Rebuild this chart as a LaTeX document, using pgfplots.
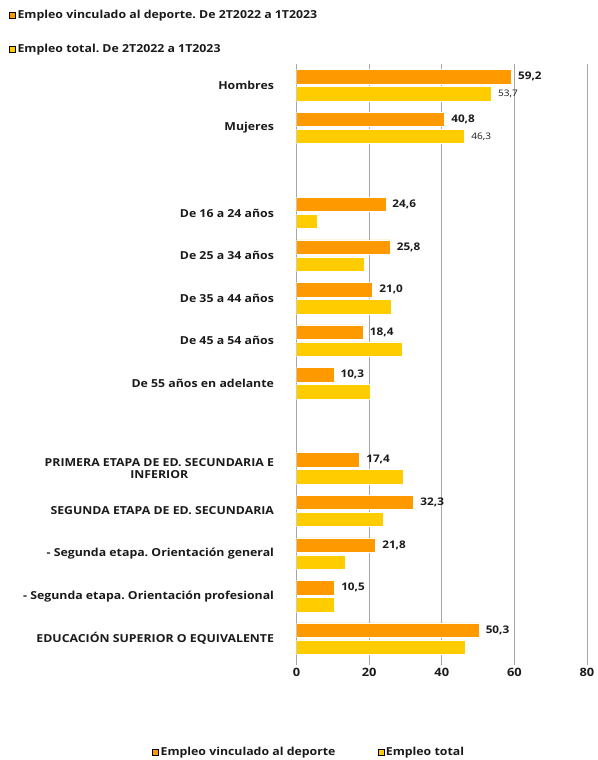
\documentclass[border=0pt]{standalone}
\usepackage{fontspec}
\setmainfont{Open Sans}[FakeStretch=1.12]
\usepackage{pgfplots}
\pgfplotsset{compat=1.18}
\frenchspacing
\definecolor{orangeS}{HTML}{FF9900}
\definecolor{yellowT}{HTML}{FFCC00}
\definecolor{gridG}{HTML}{A6A6A6}
\definecolor{txt}{HTML}{1A1A1A}
\pgfplotsset{
  sq/.style={legend image code/.code={\fill[##1] (0pt,-3pt) rectangle (6pt,3pt);}},
}
\begin{document}
\begin{tikzpicture}
\path[use as bounding box] (0pt,0pt) rectangle (597pt,760pt);
\begin{axis}[
  at={(296.5pt,100pt)}, anchor=south west,
  scale only axis, width=290.5pt, height=596pt,
  xmin=0, xmax=80, ymin=-0.5, ymax=13.5,
  xtick={0,20,40,60,80},
  ytick={0,1,2,3,4,6,7,8,9,10,12,13},
  yticklabels={EDUCACIÓN SUPERIOR O EQUIVALENTE, - Segunda etapa. Orientación profesional, - Segunda etapa. Orientación general, SEGUNDA ETAPA DE ED. SECUNDARIA, {PRIMERA ETAPA DE ED. SECUNDARIA E\\INFERIOR}, De 55 años en adelante, De 45 a 54 años, De 35 a 44 años, De 25 a 34 años, De 16 a 24 años, Mujeres, Hombres},
  yticklabel style={align=center, font=\bfseries\fontsize{11}{12.5}\selectfont, text=txt, xshift=-14pt},
  xticklabel style={font=\bfseries\fontsize{11.5}{13}\selectfont, text=txt},
  /pgf/number format/assume math mode=true,
  axis line style={draw=none},
  xmajorgrids, grid style={gridG, line width=0.8pt},
  major tick length=5pt, tick align=outside,
  xtick style={draw=gridG, line width=0.8pt}, ytick style={draw=none},
  xtick pos=bottom, ytick pos=left,
  xbar, bar width=14.5pt,
  nodes near coords={\pgfmathprintnumber[use comma,fixed,fixed zerofill,precision=1]{\pgfplotspointmeta}},
  nodes near coords align={horizontal},
]
\addplot[forget plot, fill=orangeS, draw=white, line width=0.6pt, bar shift=8.5pt,
  every node near coord/.append style={font=\bfseries\fontsize{10.5}{12}\selectfont, text=txt, xshift=3pt}]
  coordinates {(59.2,13) (40.8,12) (24.6,10) (25.8,9) (21.0,8) (18.4,7) (10.3,6) (17.4,4) (32.3,3) (21.8,2) (10.5,1) (50.3,0)};
\addplot[forget plot, fill=yellowT, draw=white, line width=0.6pt, bar shift=-8.5pt,
  every node near coord/.append style={font=\fontsize{9}{10}\selectfont, text=txt, xshift=3pt}]
  coordinates {(53.7,13) (46.3,12)};
\addplot[forget plot, fill=yellowT, draw=white, line width=0.6pt, bar shift=-8.5pt, nodes near coords={}]
  coordinates {(5.6,10) (18.8,9) (26.0,8) (29.0,7) (20.3,6) (29.5,4) (24.0,3) (13.4,2) (10.3,1) (46.4,0)};
\end{axis}
% legends
\begin{axis}[
  at={(0pt,0pt)}, anchor=south west, scale only axis, width=597pt, height=760pt,
  xmin=0, xmax=597, ymin=0, ymax=760, hide axis,
  legend style={at={(axis cs:9,752)}, anchor=north west, draw=none, fill=none,
    font=\bfseries\fontsize{11}{12}\selectfont, text=txt, row sep=20pt, inner sep=0pt},
  legend cell align=left,
]
\addlegendimage{sq, fill=orangeS}
\addlegendentry{Empleo vinculado al deporte. De 2T2022 a 1T2023}
\addlegendimage{sq, fill=yellowT}
\addlegendentry{Empleo total. De 2T2022 a 1T2023}
\end{axis}
\begin{axis}[
  at={(0pt,0pt)}, anchor=south west, scale only axis, width=597pt, height=760pt,
  xmin=0, xmax=597, ymin=0, ymax=760, hide axis,
  legend style={at={(axis cs:152,8)}, anchor=west, draw=none, fill=none,
    font=\bfseries\fontsize{11}{12}\selectfont, text=txt, inner sep=0pt},
  legend columns=2, legend cell align=left,
  legend style={/tikz/every even column/.append style={column sep=40pt}},
]
\addlegendimage{sq, fill=orangeS}
\addlegendentry{Empleo vinculado al deporte}
\addlegendimage{sq, fill=yellowT}
\addlegendentry{Empleo total}
\end{axis}
\end{tikzpicture}
\end{document}
